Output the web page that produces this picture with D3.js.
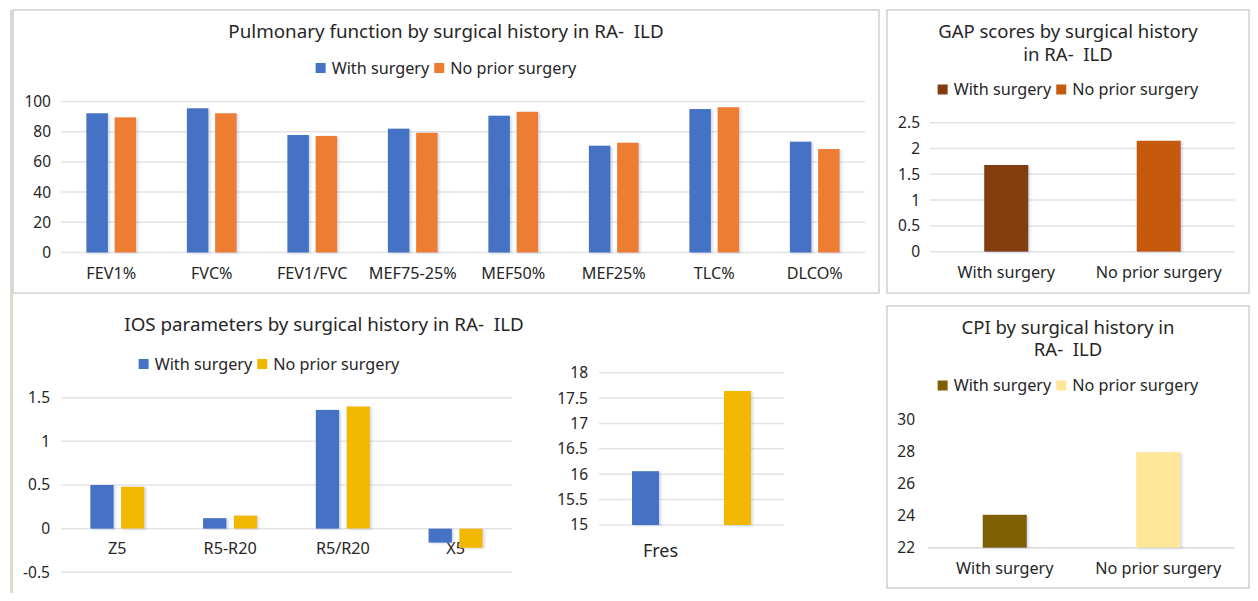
<!DOCTYPE html>
<html>
<head>
<meta charset="utf-8">
<script src="https://cdn.jsdelivr.net/npm/d3@7"></script>
<style>
  body { margin: 0; background: #fff; }
  svg text { font-family: "Noto Sans", sans-serif; fill: #262626; }
</style>
</head>
<body>
<svg id="chart" width="1258" height="601"></svg>
<script>
const seriesNames = ["With surgery", "No prior surgery"];

// pulmonary function
const pftCategories = ["FEV1%", "FVC%", "FEV1/FVC", "MEF75-25%", "MEF50%", "MEF25%", "TLC%", "DLCO%"];
const pftWithSurgery = [92.2, 95.5, 77.8, 82.0, 90.6, 70.7, 95.0, 73.4];
const pftNoSurgery = [89.5, 92.2, 77.2, 79.3, 93.2, 72.7, 96.2, 68.5];
const pftTicks = [0, 20, 40, 60, 80, 100];

// GAP scores
const gapCategories = ["With surgery", "No prior surgery"];
const gapValues = [1.68, 2.15];
const gapTicks = [0, 0.5, 1, 1.5, 2, 2.5];

// IOS parameters
const iosCategories = ["Z5", "R5-R20", "R5/R20", "X5"];
const iosWithSurgery = [0.50, 0.12, 1.36, -0.16];
const iosNoSurgery = [0.48, 0.15, 1.40, -0.22];
const iosTicks = [-0.5, 0, 0.5, 1, 1.5];

// Fres
const fresCategories = ["Fres"];
const fresWithSurgery = [16.06];
const fresNoSurgery = [17.64];
const fresTicks = [15, 15.5, 16, 16.5, 17, 17.5, 18];

// CPI
const cpiCategories = ["With surgery", "No prior surgery"];
const cpiValues = [24.05, 27.95];
const cpiTicks = [22, 24, 26, 28, 30];

const svg = d3.select("#chart");

const f = svg.append("defs").append("filter").attr("id", "shadow")
  .attr("x", "-20%").attr("y", "-5%").attr("width", "150%").attr("height", "115%");
f.append("feDropShadow").attr("dx", 2).attr("dy", 1).attr("stdDeviation", 1.2)
  .attr("flood-color", "#8a9cc0").attr("flood-opacity", 0.35);

// frames
svg.append("line").attr("x1", 11.5).attr("x2", 11.5).attr("y1", 10).attr("y2", 593)
  .attr("stroke", "#d9ddd0").attr("stroke-width", 3);
svg.append("rect").attr("x", 13).attr("y", 10).attr("width", 866).attr("height", 283)
  .attr("fill", "none").attr("stroke", "#d0d0d0").attr("stroke-width", 1.5);
svg.append("rect").attr("x", 887).attr("y", 10).attr("width", 362).attr("height", 283)
  .attr("fill", "none").attr("stroke", "#d0d0d0").attr("stroke-width", 1.5);
svg.append("rect").attr("x", 887).attr("y", 306).attr("width", 362).attr("height", 282)
  .attr("fill", "none").attr("stroke", "#d0d0d0").attr("stroke-width", 1.5);

function title(cx, lines, y0, lh, size) {
  lines.forEach((t, i) => {
    svg.append("text").attr("x", cx).attr("y", y0 + i * lh)
      .attr("text-anchor", "middle").style("font-size", size + "px").text(t);
  });
}

function legend(cx, cy, items) {
  const g = svg.append("g");
  let x = 0;
  items.forEach(d => {
    g.append("rect").attr("x", x).attr("y", cy - 5).attr("width", 10).attr("height", 10).attr("fill", d.color);
    const t = g.append("text").attr("x", x + 16).attr("y", cy + 5.6)
      .style("font-size", "16.2px").text(d.name);
    x += 16 + t.node().getComputedTextLength() + 5;
  });
  g.attr("transform", `translate(${cx - (x - 5) / 2},0)`);
}

function barChart(o) {
  const x = d3.scaleBand().domain(o.categories).range([o.left, o.right]);
  const y = d3.scaleLinear().domain(o.domain).range([o.bottom, o.top]);
  const g = svg.append("g");
  const xfs = o.xFont || 16.2;

  // gridlines
  if (o.grid) {
    g.selectAll(".grid").data(o.ticks).join("line")
      .attr("x1", o.left).attr("x2", o.right)
      .attr("y1", d => y(d)).attr("y2", d => y(d))
      .attr("stroke", "#e3e3e3").attr("stroke-width", 1.5);
  } else {
    g.append("line").attr("x1", o.left).attr("x2", o.right)
      .attr("y1", y(o.base)).attr("y2", y(o.base))
      .attr("stroke", "#d9d9d9").attr("stroke-width", 1.5);
  }

  // y axis labels
  const ya = g.append("g").attr("transform", `translate(${o.labelRight},0)`)
    .call(d3.axisLeft(y).tickValues(o.ticks).tickSize(0).tickPadding(0).tickFormat(d => String(d)));
  ya.select(".domain").remove();
  ya.selectAll("text").style("font-size", (o.yFont || 15.5) + "px").attr("fill", "#262626").attr("font-family", null);

  // x axis labels
  const xa = g.append("g").attr("transform", `translate(0,${y(o.base)})`)
    .call(d3.axisBottom(x).tickSize(0).tickPadding(o.labelBase - y(o.base) - 0.71 * xfs));
  xa.select(".domain").remove();
  xa.selectAll("text").style("font-size", xfs + "px").attr("fill", "#262626").attr("font-family", null)
    .attr("dx", o.labelDx || 0);

  // bars
  const n = o.series.length;
  const bw = x.bandwidth() * o.barFrac;
  const gap = x.bandwidth() * (o.gapFrac || 0);
  o.series.forEach((s, si) => {
    const off = (si - (n - 1) / 2) * (bw + gap) - bw / 2;
    g.selectAll(null).data(o.categories.map((c, i) => ({ c, v: s.values[i], color: s.colors ? s.colors[i] : s.color })))
      .join("rect")
      .attr("x", d => x(d.c) + x.bandwidth() / 2 + off)
      .attr("width", bw)
      .attr("y", d => Math.min(y(d.v), y(o.base)))
      .attr("height", d => Math.abs(y(d.v) - y(o.base)))
      .attr("fill", d => d.color)
      .attr("filter", "url(#shadow)");
  });
}

// Pulmonary function
title(446, ["Pulmonary function by surgical history in RA-\u00a0\u00a0ILD"], 38, 0, 18.8);
legend(446, 68, [{ name: seriesNames[0], color: "#4472C4" }, { name: seriesNames[1], color: "#ED7D31" }]);
barChart({
  categories: pftCategories, domain: [0, 100], ticks: pftTicks,
  left: 61, right: 865, top: 101.5, bottom: 252.5, base: 0,
  labelRight: 51, labelBase: 278.5, grid: true, barFrac: 0.214, gapFrac: 0.067,
  series: [{ values: pftWithSurgery, color: "#4472C4" }, { values: pftNoSurgery, color: "#ED7D31" }]
});

// GAP
title(1068, ["GAP scores by surgical history", "in RA-\u00a0\u00a0ILD"], 38, 22.5, 18.5);
legend(1068, 89.5, [{ name: seriesNames[0], color: "#843C0C" }, { name: seriesNames[1], color: "#C55A11" }]);
barChart({
  categories: gapCategories, domain: [0, 2.5], ticks: gapTicks,
  left: 930, right: 1235, top: 122.7, bottom: 251.7, base: 0,
  labelRight: 920, labelBase: 278.5, grid: true, barFrac: 0.289,
  series: [{ values: gapValues, colors: ["#843C0C", "#C55A11"] }]
});

// IOS
title(324, ["IOS parameters by surgical history in RA-\u00a0\u00a0ILD"], 331, 0, 18.8);
legend(269, 364, [{ name: seriesNames[0], color: "#4472C4" }, { name: seriesNames[1], color: "#F2B800" }]);
barChart({
  categories: iosCategories, domain: [-0.5, 1.5], ticks: iosTicks,
  left: 61, right: 512, top: 397.7, bottom: 572.3, base: 0,
  labelRight: 50, labelBase: 554, grid: true, barFrac: 0.207, gapFrac: 0.066,
  series: [{ values: iosWithSurgery, color: "#4472C4" }, { values: iosNoSurgery, color: "#F2B800" }]
});

// Fres
barChart({
  categories: fresCategories, domain: [15, 18], ticks: fresTicks,
  left: 599, right: 784, top: 372.7, bottom: 525, base: 15,
  labelRight: 588, labelBase: 557, labelDx: -31, xFont: 18, grid: true, barFrac: 0.146, gapFrac: 0.351,
  series: [{ values: fresWithSurgery, color: "#4472C4" }, { values: fresNoSurgery, color: "#F2B800" }]
});

// CPI
title(1068, ["CPI by surgical history in", "RA-\u00a0\u00a0ILD"], 333.5, 22.5, 18.5);
legend(1068, 385.5, [{ name: seriesNames[0], color: "#7F6000" }, { name: seriesNames[1], color: "#FFE699" }]);
barChart({
  categories: cpiCategories, domain: [22, 30], ticks: cpiTicks,
  left: 928, right: 1235, top: 419.3, bottom: 547.7, base: 22,
  labelRight: 915, labelBase: 574.5, grid: false, barFrac: 0.287,
  series: [{ values: cpiValues, colors: ["#7F6000", "#FFE699"] }]
});
</script>
</body>
</html>
